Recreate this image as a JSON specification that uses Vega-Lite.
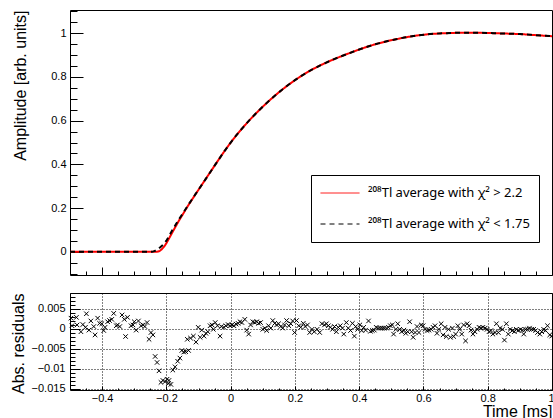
{
  "$schema": "https://vega.github.io/schema/vega-lite/v6.json",
  "padding": {"left": 9, "top": 9, "right": 0, "bottom": 0},
  "spacing": 16,
  "config": {
    "font": "Liberation Sans",
    "view": {"stroke": "#000", "strokeWidth": 1},
    "axis": {"labelFont": "Liberation Sans", "labelFontSize": 11, "labelColor": "#000", "titleFont": "Liberation Sans", "titleFontSize": 16, "titleFontWeight": "normal", "titleColor": "#000", "tickColor": "#000", "tickWidth": 1, "domain": false, "grid": false, "format": "~g"},
    "legend": {"orient": "none", "legendX": 241, "legendY": 165, "fillColor": "#ffffff", "strokeColor": "#000000", "padding": 9, "symbolType": "stroke", "symbolSize": 1521, "symbolStrokeWidth": 1, "clipHeight": 18, "rowPadding": 13, "labelOffset": 8, "labelFont": "Noto Sans", "labelFontSize": 13, "labelColor": "#000", "labelLimit": 400}
  },
  "datasets": {
    "chi_high": [
      {"t": -0.5, "amp": 0}, {"t": -0.23, "amp": 0}, {"t": -0.225, "amp": 0.0015}, {"t": -0.22, "amp": 0.005}, {"t": -0.215, "amp": 0.011}, {"t": -0.21, "amp": 0.019}, {"t": -0.205, "amp": 0.028}, {"t": -0.2, "amp": 0.0395}, {"t": -0.19, "amp": 0.066}, {"t": -0.18, "amp": 0.093}, {"t": -0.17, "amp": 0.119}, {"t": -0.16, "amp": 0.145}, {"t": -0.15, "amp": 0.169}, {"t": -0.14, "amp": 0.1935}, {"t": -0.13, "amp": 0.217}, {"t": -0.12, "amp": 0.2395}, {"t": -0.11, "amp": 0.262}, {"t": -0.1, "amp": 0.284}, {"t": -0.09, "amp": 0.306}, {"t": -0.08, "amp": 0.328}, {"t": -0.07, "amp": 0.35}, {"t": -0.06, "amp": 0.372}, {"t": -0.05, "amp": 0.394}, {"t": -0.04, "amp": 0.416}, {"t": -0.03, "amp": 0.4377}, {"t": -0.02, "amp": 0.459}, {"t": -0.01, "amp": 0.4795}, {"t": 0.0, "amp": 0.4995}, {"t": 0.01, "amp": 0.5187}, {"t": 0.02, "amp": 0.537}, {"t": 0.03, "amp": 0.5547}, {"t": 0.04, "amp": 0.5718}, {"t": 0.05, "amp": 0.5883}, {"t": 0.06, "amp": 0.6044}, {"t": 0.08, "amp": 0.6351}, {"t": 0.1, "amp": 0.6641}, {"t": 0.12, "amp": 0.6915}, {"t": 0.14, "amp": 0.7173}, {"t": 0.16, "amp": 0.7415}, {"t": 0.18, "amp": 0.7641}, {"t": 0.2, "amp": 0.7851}, {"t": 0.22, "amp": 0.8046}, {"t": 0.25, "amp": 0.8313}, {"t": 0.28, "amp": 0.8535}, {"t": 0.31, "amp": 0.874}, {"t": 0.34, "amp": 0.892}, {"t": 0.37, "amp": 0.909}, {"t": 0.4, "amp": 0.9255}, {"t": 0.43, "amp": 0.9405}, {"t": 0.46, "amp": 0.9535}, {"t": 0.5, "amp": 0.968}, {"t": 0.54, "amp": 0.98}, {"t": 0.58, "amp": 0.9895}, {"t": 0.62, "amp": 0.996}, {"t": 0.66, "amp": 0.9995}, {"t": 0.7, "amp": 1.0015}, {"t": 0.74, "amp": 1.002}, {"t": 0.78, "amp": 1.0015}, {"t": 0.82, "amp": 1.0}, {"t": 0.86, "amp": 0.998}, {"t": 0.9, "amp": 0.996}, {"t": 0.95, "amp": 0.991}, {"t": 1.0, "amp": 0.986}
    ],
    "chi_low": [
      {"t": -0.5, "amp": 0}, {"t": -0.245, "amp": 0}, {"t": -0.24, "amp": 0.002}, {"t": -0.235, "amp": 0.005}, {"t": -0.23, "amp": 0.009}, {"t": -0.225, "amp": 0.014}, {"t": -0.22, "amp": 0.02}, {"t": -0.21, "amp": 0.033}, {"t": -0.2, "amp": 0.051}, {"t": -0.19, "amp": 0.077}, {"t": -0.18, "amp": 0.103}, {"t": -0.17, "amp": 0.127}, {"t": -0.16, "amp": 0.151}, {"t": -0.15, "amp": 0.173}, {"t": -0.14, "amp": 0.196}, {"t": -0.13, "amp": 0.2185}, {"t": -0.12, "amp": 0.2405}, {"t": -0.11, "amp": 0.2625}, {"t": -0.1, "amp": 0.2843}, {"t": -0.09, "amp": 0.306}, {"t": -0.08, "amp": 0.328}, {"t": -0.07, "amp": 0.35}, {"t": -0.06, "amp": 0.372}, {"t": -0.05, "amp": 0.394}, {"t": -0.04, "amp": 0.416}, {"t": -0.03, "amp": 0.4377}, {"t": -0.02, "amp": 0.459}, {"t": -0.01, "amp": 0.4795}, {"t": 0.0, "amp": 0.4995}, {"t": 0.01, "amp": 0.5187}, {"t": 0.02, "amp": 0.537}, {"t": 0.03, "amp": 0.5547}, {"t": 0.04, "amp": 0.5718}, {"t": 0.05, "amp": 0.5883}, {"t": 0.06, "amp": 0.6044}, {"t": 0.08, "amp": 0.6351}, {"t": 0.1, "amp": 0.6641}, {"t": 0.12, "amp": 0.6915}, {"t": 0.14, "amp": 0.7173}, {"t": 0.16, "amp": 0.7415}, {"t": 0.18, "amp": 0.7641}, {"t": 0.2, "amp": 0.7851}, {"t": 0.22, "amp": 0.8046}, {"t": 0.25, "amp": 0.8313}, {"t": 0.28, "amp": 0.8535}, {"t": 0.31, "amp": 0.874}, {"t": 0.34, "amp": 0.892}, {"t": 0.37, "amp": 0.909}, {"t": 0.4, "amp": 0.9255}, {"t": 0.43, "amp": 0.9405}, {"t": 0.46, "amp": 0.9535}, {"t": 0.5, "amp": 0.968}, {"t": 0.54, "amp": 0.98}, {"t": 0.58, "amp": 0.9895}, {"t": 0.62, "amp": 0.996}, {"t": 0.66, "amp": 0.9995}, {"t": 0.7, "amp": 1.0015}, {"t": 0.74, "amp": 1.002}, {"t": 0.78, "amp": 1.0015}, {"t": 0.82, "amp": 1.0}, {"t": 0.86, "amp": 0.998}, {"t": 0.9, "amp": 0.996}, {"t": 0.95, "amp": 0.991}, {"t": 1.0, "amp": 0.986}
    ],
    "resid": [
      {"t": -0.497, "r": 0.0027}, {"t": -0.494, "r": 0.0008}, {"t": -0.48, "r": 0.0029}, {"t": -0.478, "r": 0.001}, {"t": -0.466, "r": -0.0007}, {"t": -0.46, "r": 0.0011}, {"t": -0.452, "r": 0.0004}, {"t": -0.449, "r": 0.0038}, {"t": -0.441, "r": -0.0003}, {"t": -0.435, "r": 0.002}, {"t": -0.426, "r": 0.0006}, {"t": -0.422, "r": -0.0015}, {"t": -0.414, "r": 0.0027}, {"t": -0.408, "r": 0.0014}, {"t": -0.401, "r": 0.0013}, {"t": -0.395, "r": -0.0004}, {"t": -0.391, "r": 0.0004}, {"t": -0.383, "r": 0.0018}, {"t": -0.377, "r": 0.0021}, {"t": -0.37, "r": 0.0024}, {"t": -0.364, "r": 0.0039}, {"t": -0.356, "r": 0.0008}, {"t": -0.352, "r": 0.001}, {"t": -0.345, "r": 0.0006}, {"t": -0.338, "r": 0.0035}, {"t": -0.331, "r": 0.0024}, {"t": -0.327, "r": -0.0019}, {"t": -0.321, "r": 0.0029}, {"t": -0.31, "r": 0.0008}, {"t": -0.304, "r": 0.001}, {"t": -0.3, "r": 0.0018}, {"t": -0.294, "r": -0.0003}, {"t": -0.287, "r": 0.002}, {"t": -0.279, "r": 0.0008}, {"t": -0.273, "r": 0.001}, {"t": -0.267, "r": 0.0006}, {"t": -0.26, "r": 0.0016}, {"t": -0.254, "r": -0.0026}, {"t": -0.248, "r": -0.0009}, {"t": -0.242, "r": -0.0015}, {"t": -0.235, "r": -0.0069}, {"t": -0.229, "r": -0.0084}, {"t": -0.223, "r": -0.0105}, {"t": -0.217, "r": -0.0134}, {"t": -0.211, "r": -0.0129}, {"t": -0.204, "r": -0.0132}, {"t": -0.198, "r": -0.0126}, {"t": -0.194, "r": -0.0137}, {"t": -0.192, "r": -0.0129}, {"t": -0.186, "r": -0.0139}, {"t": -0.18, "r": -0.0103}, {"t": -0.173, "r": -0.0095}, {"t": -0.165, "r": -0.0081}, {"t": -0.158, "r": -0.0073}, {"t": -0.152, "r": -0.0054}, {"t": -0.146, "r": -0.0058}, {"t": -0.14, "r": -0.0057}, {"t": -0.135, "r": -0.0026}, {"t": -0.131, "r": -0.0054}, {"t": -0.125, "r": -0.0023}, {"t": -0.116, "r": -0.0018}, {"t": -0.108, "r": -0.0033}, {"t": -0.101, "r": 0.0004}, {"t": -0.095, "r": -0.0021}, {"t": -0.09, "r": -0.0003}, {"t": -0.083, "r": -0.0018}, {"t": -0.077, "r": -0.0011}, {"t": -0.071, "r": -0.0007}, {"t": -0.064, "r": 0.0008}, {"t": -0.058, "r": 0.001}, {"t": -0.054, "r": -0.0001}, {"t": -0.048, "r": 0.0016}, {"t": -0.041, "r": 0.0008}, {"t": -0.033, "r": -0.0018}, {"t": -0.029, "r": 0.0006}, {"t": -0.021, "r": 0.0004}, {"t": -0.015, "r": 0.0008}, {"t": -0.008, "r": 0.0011}, {"t": -0.002, "r": 0.0008}, {"t": 0.004, "r": 0.001}, {"t": 0.01, "r": 0.0008}, {"t": 0.017, "r": 0.0012}, {"t": 0.023, "r": 0.0014}, {"t": 0.029, "r": 0.0018}, {"t": 0.035, "r": 0.0016}, {"t": 0.044, "r": 0.0024}, {"t": 0.05, "r": -0.0003}, {"t": 0.056, "r": -0.0013}, {"t": 0.062, "r": 0.001}, {"t": 0.069, "r": 0.0018}, {"t": 0.075, "r": 0.0016}, {"t": 0.081, "r": 0.0018}, {"t": 0.087, "r": 0.0014}, {"t": 0.093, "r": 0.0016}, {"t": 0.1, "r": -0.0001}, {"t": 0.106, "r": 0.0002}, {"t": 0.112, "r": -0.0004}, {"t": 0.118, "r": 0.0008}, {"t": 0.125, "r": 0.0002}, {"t": 0.131, "r": 0.0021}, {"t": 0.137, "r": 0.0014}, {"t": 0.143, "r": 0.001}, {"t": 0.149, "r": 0.0013}, {"t": 0.156, "r": 0.0006}, {"t": 0.162, "r": 0.0002}, {"t": 0.168, "r": 0.001}, {"t": 0.174, "r": 0.0021}, {"t": 0.181, "r": 0.0008}, {"t": 0.187, "r": 0.0013}, {"t": 0.193, "r": 0.002}, {"t": 0.199, "r": -0.0009}, {"t": 0.205, "r": 0.0021}, {"t": 0.212, "r": 0.0008}, {"t": 0.218, "r": 0.0004}, {"t": 0.226, "r": 0.0014}, {"t": 0.232, "r": 0.0006}, {"t": 0.239, "r": 0.001}, {"t": 0.246, "r": -0.0009}, {"t": 0.253, "r": -0.0001}, {"t": 0.26, "r": -0.0007}, {"t": 0.269, "r": -0.0001}, {"t": 0.277, "r": -0.0009}, {"t": 0.284, "r": 0.0013}, {"t": 0.292, "r": 0.001}, {"t": 0.298, "r": 0.0013}, {"t": 0.304, "r": 0.0008}, {"t": 0.31, "r": 0.0004}, {"t": 0.317, "r": -0.0001}, {"t": 0.323, "r": 0.0006}, {"t": 0.329, "r": -0.0007}, {"t": 0.335, "r": 0.0004}, {"t": 0.341, "r": 0.0008}, {"t": 0.348, "r": 0.0002}, {"t": 0.352, "r": -0.0013}, {"t": 0.36, "r": 0.0016}, {"t": 0.366, "r": 0.0002}, {"t": 0.373, "r": -0.0004}, {"t": 0.379, "r": 0.0014}, {"t": 0.385, "r": -0.0018}, {"t": 0.389, "r": 0.0006}, {"t": 0.395, "r": -0.0001}, {"t": 0.402, "r": 0.001}, {"t": 0.408, "r": -0.0004}, {"t": 0.414, "r": 0.0004}, {"t": 0.42, "r": -0.0003}, {"t": 0.429, "r": 0.002}, {"t": 0.435, "r": -0.0006}, {"t": 0.441, "r": -0.0004}, {"t": 0.447, "r": -0.0003}, {"t": 0.453, "r": 0.0004}, {"t": 0.46, "r": 0.0002}, {"t": 0.466, "r": 0.0002}, {"t": 0.472, "r": 0.0002}, {"t": 0.478, "r": 0.0002}, {"t": 0.485, "r": 0.0002}, {"t": 0.491, "r": 0.0004}, {"t": 0.497, "r": 0.0008}, {"t": 0.503, "r": 0.001}, {"t": 0.507, "r": -0.0013}, {"t": 0.514, "r": -0.0001}, {"t": 0.52, "r": 0.0013}, {"t": 0.526, "r": -0.0001}, {"t": 0.532, "r": -0.0007}, {"t": 0.539, "r": -0.0003}, {"t": 0.545, "r": -0.0011}, {"t": 0.551, "r": -0.0007}, {"t": 0.557, "r": 0.0018}, {"t": 0.563, "r": -0.0007}, {"t": 0.568, "r": -0.0021}, {"t": 0.574, "r": -0.0009}, {"t": 0.58, "r": 0.0006}, {"t": 0.586, "r": -0.0009}, {"t": 0.593, "r": 0.001}, {"t": 0.599, "r": 0.0008}, {"t": 0.605, "r": -0.0001}, {"t": 0.611, "r": -0.0004}, {"t": 0.617, "r": -0.0003}, {"t": 0.624, "r": -0.0001}, {"t": 0.63, "r": 0.0004}, {"t": 0.636, "r": 0.0008}, {"t": 0.642, "r": -0.0011}, {"t": 0.648, "r": -0.0001}, {"t": 0.655, "r": 0.0013}, {"t": 0.661, "r": -0.0015}, {"t": 0.667, "r": 0.0004}, {"t": 0.671, "r": -0.0019}, {"t": 0.678, "r": -0.0001}, {"t": 0.684, "r": -0.0021}, {"t": 0.69, "r": 0.0002}, {"t": 0.694, "r": -0.0019}, {"t": 0.7, "r": -0.0013}, {"t": 0.707, "r": 0.0008}, {"t": 0.713, "r": -0.0001}, {"t": 0.719, "r": -0.0013}, {"t": 0.725, "r": 0.001}, {"t": 0.731, "r": -0.003}, {"t": 0.736, "r": 0.0013}, {"t": 0.742, "r": 0.0008}, {"t": 0.748, "r": -0.0003}, {"t": 0.754, "r": -0.0013}, {"t": 0.76, "r": -0.0007}, {"t": 0.767, "r": -0.0001}, {"t": 0.773, "r": 0.0004}, {"t": 0.779, "r": 0.0002}, {"t": 0.785, "r": 0.0004}, {"t": 0.792, "r": 0.0002}, {"t": 0.798, "r": -0.0001}, {"t": 0.804, "r": -0.0007}, {"t": 0.81, "r": -0.0004}, {"t": 0.816, "r": -0.0013}, {"t": 0.823, "r": -0.0009}, {"t": 0.827, "r": 0.0013}, {"t": 0.833, "r": -0.0009}, {"t": 0.839, "r": 0.0002}, {"t": 0.846, "r": -0.0001}, {"t": 0.852, "r": -0.0028}, {"t": 0.858, "r": 0.0013}, {"t": 0.864, "r": -0.0013}, {"t": 0.87, "r": -0.0001}, {"t": 0.877, "r": -0.0004}, {"t": 0.883, "r": -0.0007}, {"t": 0.889, "r": -0.0001}, {"t": 0.895, "r": -0.0004}, {"t": 0.902, "r": -0.0001}, {"t": 0.908, "r": -0.0003}, {"t": 0.912, "r": -0.0013}, {"t": 0.918, "r": -0.0001}, {"t": 0.924, "r": -0.0001}, {"t": 0.93, "r": 0.0002}, {"t": 0.937, "r": -0.0001}, {"t": 0.943, "r": -0.0001}, {"t": 0.949, "r": -0.0004}, {"t": 0.955, "r": -0.0009}, {"t": 0.962, "r": -0.0013}, {"t": 0.968, "r": -0.0007}, {"t": 0.974, "r": -0.0001}, {"t": 0.98, "r": -0.0004}, {"t": 0.986, "r": 0.0008}, {"t": 0.993, "r": -0.0015}, {"t": 0.999, "r": -0.0018}
    ]
  },
  "vconcat": [
    {
      "width": 482,
      "height": 265,
      "layer": [
        {
          "data": {"name": "chi_high"},
          "mark": {"type": "line", "strokeWidth": 2},
          "encoding": {
            "x": {"field": "t", "type": "quantitative", "scale": {"domain": [-0.5, 1], "nice": false, "zero": false},
                  "axis": {"orient": "bottom", "values": [-0.4, -0.2, 0, 0.2, 0.4, 0.6, 0.8, 1], "labels": false, "tickSize": -8, "title": null}},
            "y": {"field": "amp", "type": "quantitative", "scale": {"domain": [-0.106, 1.106], "nice": false, "zero": false},
                  "axis": {"orient": "left", "values": [0, 0.2, 0.4, 0.6, 0.8, 1], "tickSize": -13, "labelPadding": 17, "title": "Amplitude [arb. units]", "titleX": -50, "titleY": 0, "titleAlign": "right", "titleAngle": 270, "titleBaseline": "middle"}},
            "color": {"datum": "²⁰⁸Tl average with χ² > 2.2", "type": "nominal", "scale": {"domain": ["²⁰⁸Tl average with χ² > 2.2", "²⁰⁸Tl average with χ² < 1.75"], "range": ["#ff0000", "#000000"]}, "legend": {"title": null}},
            "strokeDash": {"datum": "²⁰⁸Tl average with χ² > 2.2", "type": "nominal", "scale": {"domain": ["²⁰⁸Tl average with χ² > 2.2", "²⁰⁸Tl average with χ² < 1.75"], "range": [[1, 0], [5, 4]]}, "legend": {"title": null}}
          }
        },
        {
          "data": {"name": "chi_low"},
          "mark": {"type": "line", "strokeWidth": 2},
          "encoding": {
            "x": {"field": "t", "type": "quantitative", "axis": null},
            "y": {"field": "amp", "type": "quantitative", "axis": null},
            "color": {"datum": "²⁰⁸Tl average with χ² < 1.75", "type": "nominal", "legend": {"title": null}},
            "strokeDash": {"datum": "²⁰⁸Tl average with χ² < 1.75", "type": "nominal", "legend": {"title": null}}
          }
        },
        {
          "data": {"name": "chi_high"},
          "mark": {"type": "point", "opacity": 0},
          "encoding": {
            "x": {"field": "t", "type": "quantitative",
                  "axis": {"orient": "bottom", "values": [-0.45, -0.4, -0.35, -0.3, -0.25, -0.2, -0.15, -0.1, -0.05, 0, 0.05, 0.1, 0.15, 0.2, 0.25, 0.3, 0.35, 0.4, 0.45, 0.5, 0.55, 0.6, 0.65, 0.7, 0.75, 0.8, 0.85, 0.9, 0.95], "labels": false, "tickSize": -4, "title": null}},
            "y": {"field": "amp", "type": "quantitative",
                  "axis": {"orient": "left", "values": [-0.1, -0.05, 0, 0.05, 0.1, 0.15, 0.2, 0.25, 0.3, 0.35, 0.4, 0.45, 0.5, 0.55, 0.6, 0.65, 0.7, 0.75, 0.8, 0.85, 0.9, 0.95, 1, 1.05, 1.1], "labels": false, "tickSize": -7, "title": null}}
          }
        }
      ],
      "resolve": {"axis": {"x": "independent", "y": "independent"}}
    },
    {
      "width": 482,
      "height": 97,
      "data": {"name": "resid"},
      "layer": [
        {
          "mark": {"type": "point", "shape": "M-1,-1L1,1M-1,1L1,-1", "size": 20, "stroke": "#000", "strokeWidth": 1, "filled": false, "opacity": 1},
          "encoding": {
            "x": {"field": "t", "type": "quantitative", "scale": {"domain": [-0.5, 1], "nice": false, "zero": false},
                  "axis": {"orient": "bottom", "values": [-0.4, -0.2, 0, 0.2, 0.4, 0.6, 0.8, 1], "tickSize": -4, "labelPadding": 6, "grid": true, "gridDash": [1, 2], "gridColor": "#000",
                           "labelAlign": {"condition": {"test": "datum.value >= 1", "value": "right"}, "value": "center"},
                           "labelOffset": {"condition": {"test": "datum.value >= 1", "value": 2}, "value": 0},
                           "title": "Time [ms]", "titleAlign": "right", "titleX": 482, "titleY": 26, "titleBaseline": "alphabetic"}},
            "y": {"field": "r", "type": "quantitative", "scale": {"domain": [-0.0153, 0.009], "nice": false, "zero": false},
                  "axis": {"orient": "left", "values": [-0.015, -0.01, -0.005, 0, 0.005], "tickSize": -10, "labelPadding": 15, "grid": true, "gridDash": [1, 2], "gridColor": "#000",
                           "title": "Abs. residuals", "titleX": -52, "titleY": 0, "titleAlign": "right", "titleAngle": 270, "titleBaseline": "middle"}}
          }
        },
        {
          "mark": {"type": "point", "opacity": 0},
          "encoding": {
            "x": {"field": "t", "type": "quantitative",
                  "axis": {"orient": "bottom", "values": [-0.45, -0.4, -0.35, -0.3, -0.25, -0.2, -0.15, -0.1, -0.05, 0, 0.05, 0.1, 0.15, 0.2, 0.25, 0.3, 0.35, 0.4, 0.45, 0.5, 0.55, 0.6, 0.65, 0.7, 0.75, 0.8, 0.85, 0.9, 0.95], "labels": false, "tickSize": -2, "title": null}},
            "y": {"field": "r", "type": "quantitative",
                  "axis": {"orient": "left", "values": [-0.015, -0.014, -0.013, -0.012, -0.011, -0.01, -0.009, -0.008, -0.007, -0.006, -0.005, -0.004, -0.003, -0.002, -0.001, 0, 0.001, 0.002, 0.003, 0.004, 0.005, 0.006, 0.007, 0.008, 0.009], "labels": false, "tickSize": -5, "title": null}}
          }
        }
      ],
      "resolve": {"axis": {"x": "independent", "y": "independent"}}
    }
  ]
}
